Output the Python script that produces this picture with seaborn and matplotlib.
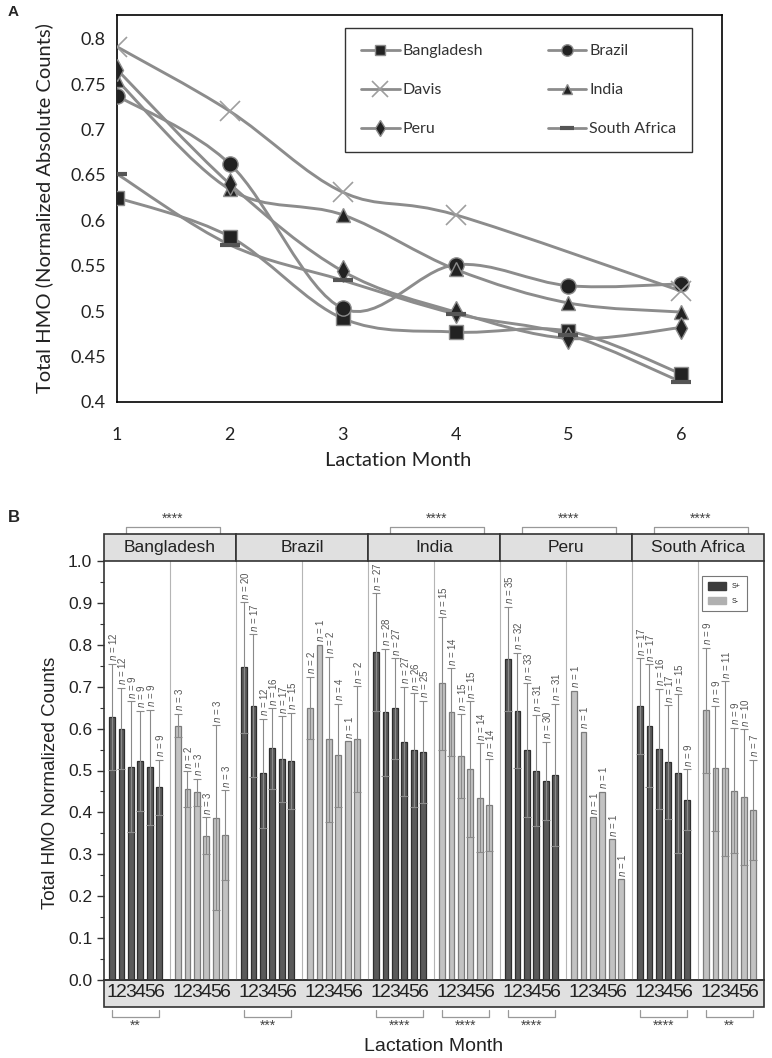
import numpy as np
import pandas as pd
import matplotlib
matplotlib.use("Agg")
import matplotlib.pyplot as plt
import matplotlib.transforms as mtransforms
import seaborn as sns
from matplotlib.path import Path
from matplotlib.patches import PathPatch, Rectangle, Patch
from matplotlib.lines import Line2D
from matplotlib.ticker import MultipleLocator, FuncFormatter

# ---------------- Panel A: mean total HMO by lactation month ----------------
months = [1, 2, 3, 4, 5, 6]
bangladesh_a = [0.625, 0.582, 0.492, 0.477, 0.478, 0.431]
brazil_a = [0.737, 0.662, 0.503, 0.551, 0.528, 0.530]
davis_a = [0.791, 0.720, 0.631, 0.606, np.nan, 0.522]
india_a = [0.754, 0.634, 0.606, 0.546, 0.509, 0.499]
peru_a = [0.766, 0.640, 0.544, 0.499, 0.470, 0.482]
south_africa_a = [0.651, 0.573, 0.534, 0.497, 0.474, 0.422]

# ---------------- Panel B: secretor (S+) vs non-secretor (S-) ----------------
countries = ["Bangladesh", "Brazil", "India", "Peru", "South Africa"]
pos_mean = [[0.628, 0.600, 0.509, 0.523, 0.508, 0.460],
            [0.746, 0.655, 0.493, 0.553, 0.527, 0.523],
            [0.782, 0.639, 0.648, 0.569, 0.549, 0.545],
            [0.766, 0.643, 0.549, 0.500, 0.475, 0.489],
            [0.654, 0.607, 0.551, 0.520, 0.493, 0.430]]
pos_sd = [[0.127, 0.097, 0.156, 0.119, 0.137, 0.066],
          [0.156, 0.170, 0.130, 0.096, 0.102, 0.115],
          [0.141, 0.152, 0.120, 0.131, 0.135, 0.122],
          [0.125, 0.138, 0.159, 0.133, 0.094, 0.170],
          [0.114, 0.146, 0.144, 0.136, 0.189, 0.073]]
pos_n = [[12, 12, 9, 9, 9, 9],
         [20, 17, 12, 16, 17, 15],
         [27, 28, 27, 27, 26, 25],
         [35, 32, 33, 31, 30, 31],
         [17, 17, 16, 17, 15, 9]]
neg_mean = [[0.607, 0.456, 0.448, 0.344, 0.387, 0.346],
            [0.650, 0.800, 0.574, 0.536, 0.570, 0.575],
            [0.708, 0.639, 0.535, 0.503, 0.435, 0.418],
            [0.690, 0.593, 0.388, 0.449, 0.336, 0.241],
            [0.644, 0.505, 0.505, 0.452, 0.436, 0.406]]
neg_sd = [[0.028, 0.042, 0.032, 0.044, 0.221, 0.107],
          [0.074, 0.0, 0.198, 0.123, 0.0, 0.126],
          [0.158, 0.105, 0.100, 0.162, 0.130, 0.109],
          [0.0, 0.0, 0.0, 0.0, 0.0, 0.0],
          [0.149, 0.150, 0.208, 0.150, 0.162, 0.120]]
neg_n = [[3, 2, 3, 3, 3, 3],
         [2, 1, 2, 4, 1, 2],
         [15, 14, 15, 15, 14, 14],
         [1, 1, 1, 1, 1, 1],
         [9, 9, 11, 9, 10, 7]]
# significance: between-group (top) and across-month (bottom)
top_stars = ["****", "", "****", "****", "****"]
bottom_pos_stars = ["**", "***", "****", "****", "****"]
bottom_neg_stars = ["", "", "****", "", "**"]


def smooth_path(xs, ys):
    # Catmull-Rom style smoothing like Excel "smoothed line"
    pts = np.column_stack([xs, ys])
    verts, codes = [pts[0]], [Path.MOVETO]
    n = len(pts)
    for i in range(n - 1):
        p0 = pts[i - 1] if i > 0 else pts[i]
        p1, p2 = pts[i], pts[i + 1]
        p3 = pts[i + 2] if i + 2 < n else pts[i + 1]
        verts += [p1 + (p2 - p0) / 6, p2 - (p3 - p1) / 6, p2]
        codes += [Path.CURVE4] * 3
    return Path(verts, codes)


sns.set_theme(style="white")
plt.rcParams['font.family'] = ['Liberation Sans', 'DejaVu Sans']
plt.rcParams['mathtext.fontset'] = 'custom'
plt.rcParams['mathtext.it'] = 'Liberation Sans:italic'
plt.rcParams['mathtext.rm'] = 'Liberation Sans'

fig = plt.figure(figsize=(7.72, 10.58), dpi=100)
calibri = ['Lato', 'DejaVu Sans']

# ======================= PANEL A =======================
axa = fig.add_axes([117 / 772, 1 - 402 / 1058, 605 / 772, 387 / 1058])
line_col = "#8c8c8c"
styles = [
    ("Bangladesh", bangladesh_a, dict(marker="s", ms=10, mfc="#222222", mec=line_col, mew=1.0)),
    ("Brazil", brazil_a, dict(marker="o", ms=11, mfc="#222222", mec=line_col, mew=1.0)),
    ("Davis", davis_a, dict(marker="x", ms=15, mfc="none", mec="#9e9e9e", mew=1.2)),
    ("India", india_a, dict(marker="^", ms=10.5, mfc="#222222", mec=line_col, mew=1.0)),
    ("Peru", peru_a, dict(marker="d", ms=11, mfc="#222222", mec=line_col, mew=1.0)),
    ("South Africa", south_africa_a, dict(marker="_", ms=14, mfc="#555555", mec="#555555", mew=3)),
]
handles = {}
for name, vals, mk in styles:
    xs = np.array(months, dtype=float)
    ys = np.array(vals, dtype=float)
    ok = ~np.isnan(ys)
    axa.add_patch(PathPatch(smooth_path(xs[ok], ys[ok]), fill=False,
                            edgecolor=line_col, lw=2.1, zorder=2))
    axa.plot(xs[ok], ys[ok], linestyle="none", zorder=3, **mk)
    handles[name] = Line2D([0], [0], color=line_col, lw=2.0, label=name,
                           **{k: (v * 0.75 if k == "ms" else v) for k, v in mk.items()})

axa.set_xlim(1, 6.36)
axa.set_ylim(0.4, 0.826)
axa.set_xticks(months)
axa.yaxis.set_major_locator(MultipleLocator(0.05))
axa.yaxis.set_major_formatter(FuncFormatter(lambda v, p: f"{v:g}" if v <= 0.8001 else ""))
axa.tick_params(axis="y", direction="out", length=4, width=1, color="black",
                labelsize=13, pad=4)
axa.tick_params(axis="x", length=0, labelsize=13, pad=18)
for lab in axa.get_xticklabels() + axa.get_yticklabels():
    lab.set_family(calibri)
    lab.set_color("#222222")
for sp in axa.spines.values():
    sp.set_color("black")
    sp.set_linewidth(1.2)
axa.set_ylabel("Total HMO (Normalized Absolute Counts)", fontsize=14.5,
               family=calibri, color="#222222")
axa.yaxis.set_label_coords(-0.105, 0.5)
axa.set_xlabel("Lactation Month", fontsize=14.5, family=calibri, color="#222222")
axa.xaxis.set_label_coords(0.465, -0.13)

# column-major fill, so order gives rows: Bangladesh/Brazil, Davis/India, Peru/South Africa
leg_order = ["Bangladesh", "Davis", "Peru", "Brazil", "India", "South Africa"]
leg = axa.legend(handles=[handles[k] for k in leg_order], ncol=2, loc="lower left",
                 bbox_to_anchor=(0.364, 0.625, 0.6, 0.316), mode="expand",
                 frameon=True, fancybox=False, edgecolor="black",
                 prop={"family": calibri, "size": 11.5}, handlelength=2.4,
                 handletextpad=0.2, labelspacing=1.55, borderpad=1.0,
                 columnspacing=1.0)
leg.get_frame().set_linewidth(1.0)
for t in leg.get_texts():
    t.set_color("#333333")

fig.text(8 / 772, 1 - 12 / 1058, "A", fontsize=11, fontweight="bold", va="center")

# ======================= PANEL B =======================
axb = fig.add_axes([104 / 772, 1 - 980 / 1058, 660 / 772, 419 / 1058])
rows = []
for ci, country in enumerate(countries):
    for g, (status, mean, sd, nn) in enumerate([("S+", pos_mean, pos_sd, pos_n),
                                                 ("S-", neg_mean, neg_sd, neg_n)]):
        for m in range(6):
            rows.append({"country": country, "status": status, "month": m + 1,
                         "x": ci * 14 + g * 7 + 0.85 + m, "mean": mean[ci][m],
                         "sd": sd[ci][m], "n": nn[ci][m]})
df = pd.DataFrame(rows)

colors = {"S+": ("#5a5a5a", "#2e2e2e"), "S-": ("#c2c2c2", "#7c7c7c")}
for status in ["S+", "S-"]:
    sub = df[df.status == status]
    sns.barplot(data=sub, x="x", y="mean", native_scale=True, width=0.62,
                color=colors[status][0], edgecolor=colors[status][1],
                linewidth=0.9, saturation=1, errorbar=None, ax=axb, zorder=2)

has_err = df.sd > 0
axb.errorbar(df.x[has_err], df["mean"][has_err], yerr=df.sd[has_err], fmt="none",
             ecolor="#8a8a8a", elinewidth=0.8, capsize=2.6, capthick=0.8, zorder=3)
for _, r in df.iterrows():
    axb.text(r.x + 0.1, r["mean"] + r.sd + 0.006, rf"$n$ = {r.n}", rotation=90,
             ha="center", va="bottom", fontsize=7, color="#555555")

# separators between country halves
for k in range(1, 10):
    axb.axvline(k * 7, color="#b5b5b5", lw=0.8, zorder=1)

axb.set_xlim(0, 70)
axb.set_ylim(0, 1.0)
axb.set_xticks(df.x)
axb.set_xticklabels(df.month)
axb.tick_params(axis="x", length=0, labelsize=14, pad=3, labelcolor="#222222")
axb.yaxis.set_major_locator(MultipleLocator(0.1))
axb.yaxis.set_minor_locator(MultipleLocator(0.05))
axb.yaxis.set_major_formatter(FuncFormatter(lambda v, p: f"{v:.1f}"))
axb.tick_params(axis="y", which="major", direction="out", length=5, width=1,
                color="#333333", labelsize=12.5, left=True, labelcolor="#222222")
axb.tick_params(axis="y", which="minor", direction="out", length=3, width=0.8,
                color="#333333", left=True)
for sp in axb.spines.values():
    sp.set_color("#333333")
    sp.set_linewidth(1.2)
axb.spines["top"].set_visible(False)

# bottom gray strip behind month digits
strip_h = 27 / 419
axb.add_patch(Rectangle((0, -strip_h), 1, strip_h, transform=axb.transAxes,
                        facecolor="#e0e0e0", edgecolor="#333333", lw=1.2,
                        clip_on=False, zorder=0.5))

# top strips with country names
trans = mtransforms.blended_transform_factory(axb.transData, axb.transAxes)
for ci, country in enumerate(countries):
    axb.add_patch(Rectangle((ci * 14, 1.0), 14, strip_h, transform=trans,
                            facecolor="#e0e0e0", edgecolor="#333333", lw=1.2,
                            clip_on=False, zorder=4))
    axb.text(ci * 14 + 7, 1.0 + strip_h / 2, country, transform=trans,
             ha="center", va="center", fontsize=12.5, color="#222222", zorder=5)
    if top_stars[ci]:
        x0, x1 = ci * 14 + 2.3, ci * 14 + 12.3
        axb.plot([x0, x0, x1, x1], [1.064, 1.082, 1.082, 1.064], transform=trans,
                 color="#999999", lw=0.9, clip_on=False)
        axb.text((x0 + x1) / 2, 1.084, top_stars[ci], transform=trans, ha="center",
                 va="bottom", fontsize=10, color="#444444")
    for g, stars in enumerate([bottom_pos_stars[ci], bottom_neg_stars[ci]]):
        if stars:
            x0 = ci * 14 + g * 7 + 0.85
            x1 = x0 + 5
            yb = -strip_h - 0.007
            axb.plot([x0, x0, x1, x1], [yb, yb - 0.018, yb - 0.018, yb],
                     transform=trans, color="#999999", lw=0.9, clip_on=False)
            axb.text((x0 + x1) / 2, yb - 0.022, stars, transform=trans,
                     ha="center", va="top", fontsize=10, color="#444444")

axb.set_ylabel("Total HMO Normalized Counts", fontsize=13.5, color="#222222")
axb.yaxis.set_label_coords(-0.068, 0.47)
axb.set_xlabel("Lactation Month", fontsize=14, color="#222222")
axb.xaxis.set_label_coords(0.5, -0.138)

legb = axb.legend(handles=[Patch(facecolor="#3c3c3c", edgecolor="#3c3c3c", label="S+"),
                           Patch(facecolor="#b0b0b0", edgecolor="#b0b0b0", label="S-")],
                  loc="upper right", bbox_to_anchor=(0.979, 0.972), frameon=True,
                  fancybox=False, edgecolor="#555555", fontsize=5,
                  handlelength=2.6, handleheight=1.2, labelspacing=1.0,
                  borderpad=0.9, handletextpad=0.8)
legb.get_frame().set_linewidth(0.8)

fig.text(8 / 772, 1 - 517 / 1058, "B", fontsize=12, fontweight="bold", va="center")

fig.savefig("out.png", dpi=100)
